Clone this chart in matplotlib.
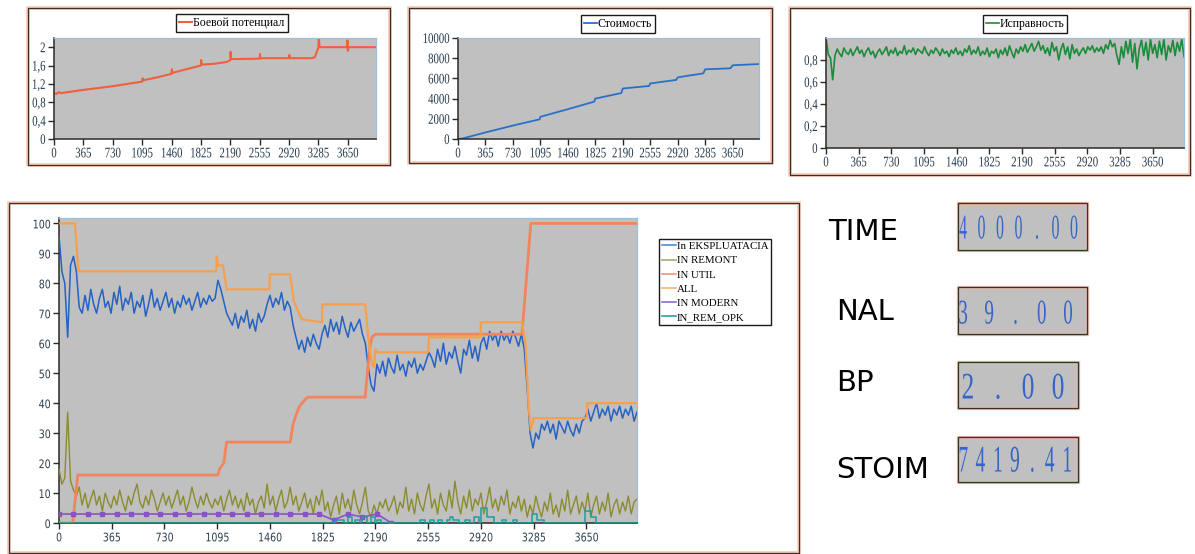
import numpy as np
import matplotlib
matplotlib.use('Agg')
import matplotlib.pyplot as plt
from matplotlib.patches import Rectangle
from matplotlib.patheffects import AbstractPathEffect
from matplotlib.transforms import Affine2D
from matplotlib.lines import Line2D

# ---------------- DATA ----------------
x_ticks = [0, 365, 730, 1095, 1460, 1825, 2190, 2555, 2920, 3285, 3650]
x_tick_labels = ['0', '365', '730', '1095', '1460', '1825', '2190', '2555', '2920', '3285', '3650']

# Боевой потенциал (top-left)
bp_days = [0, 30, 60, 90, 365, 730, 1095, 1100, 1110, 1300, 1460, 1465, 1470, 1600, 1825, 1828, 1835,
           2000, 2150, 2190, 2193, 2200, 2555, 2558, 2565, 2920, 2923, 2930, 3200, 3240, 3285, 3288,
           3300, 3640, 3645, 3650, 3660, 4000]
bp_vals = [1.0, 0.98, 1.02, 1.0, 1.07, 1.15, 1.25, 1.32, 1.28, 1.35, 1.42, 1.52, 1.44, 1.5, 1.6, 1.72, 1.62,
           1.64, 1.68, 1.72, 1.9, 1.74, 1.75, 1.85, 1.76, 1.76, 1.83, 1.76, 1.76, 1.78, 2.0, 2.2,
           2.0, 2.0, 2.15, 1.92, 2.0, 2.0]
bp_yticks = [0, 0.4, 0.8, 1.2, 1.6, 2.0]
bp_ylabels = ['0', '0,4', '0,8', '1,2', '1,6', '2']

# Стоимость (top-middle)
cost_days = [0, 60, 365, 730, 1085, 1095, 1460, 1810, 1825, 2170, 2190, 2540, 2555, 2900, 2920,
             3260, 3285, 3620, 3650, 4000]
cost_vals = [0, 50, 650, 1330, 1950, 2200, 2950, 3700, 4000, 4550, 5000, 5250, 5500, 5850, 6100,
             6500, 6900, 7000, 7300, 7420]
cost_yticks = [0, 2000, 4000, 6000, 8000, 10000]
cost_ylabels = ['0', '2000', '4000', '6000', '8000', '10000']

# Исправность (top-right), every 25 days
isp_vals = [
    1.0, 0.85, 0.82, 0.62, 0.84, 0.90, 0.86, 0.83, 0.91, 0.87,
    0.85, 0.90, 0.84, 0.88, 0.92, 0.86, 0.89, 0.83, 0.88, 0.91,
    0.85, 0.88, 0.82, 0.87, 0.90, 0.85, 0.88, 0.92, 0.84, 0.89,
    0.86, 0.91, 0.84, 0.88, 0.86, 0.93, 0.85, 0.89, 0.87, 0.91,
    0.85, 0.90, 0.88, 0.86, 0.92, 0.87, 0.84, 0.89, 0.86, 0.91,
    0.88, 0.84, 0.90, 0.86, 0.88, 0.83, 0.89, 0.86, 0.91, 0.85,
    0.88, 0.84, 0.90, 0.87, 0.93, 0.85, 0.89, 0.86, 0.92, 0.84,
    0.88, 0.85, 0.91, 0.83, 0.88, 0.86, 0.90, 0.82, 0.89, 0.85,
    0.91, 0.84, 0.93, 0.87, 0.82, 0.90, 0.86, 0.92, 0.88, 0.94,
    0.87, 0.91, 0.95, 0.88, 0.92, 0.97, 0.89, 0.93, 0.86, 0.91,
    0.84, 0.96, 0.88, 0.92, 0.80, 0.90, 0.95, 0.85, 0.92, 0.81,
    0.94, 0.86, 0.90, 0.84, 0.88, 0.91, 0.86, 0.92, 0.89, 0.93,
    0.87, 0.91, 0.88, 0.92, 0.86, 0.94, 0.90, 0.98, 0.92, 0.95,
    0.84, 0.76, 0.92, 0.82, 0.97, 0.86, 0.99, 0.78, 0.95, 0.72,
    0.90, 0.98, 0.84, 0.96, 0.80, 0.99, 0.86, 0.94, 0.82, 0.97,
    0.85, 0.99, 0.80, 0.93, 0.87, 0.98, 0.84, 0.96, 0.88, 0.99,
    0.83]
isp_days = np.arange(0, 4001, 25)
isp_yticks = [0, 0.2, 0.4, 0.6, 0.8]
isp_ylabels = ['0', '0,2', '0,4', '0,6', '0,8']

# Main chart, every 20 days
main_days = np.arange(0, 4001, 20)
ekspl_vals = [
    96, 84, 80, 62, 86, 89, 84, 72, 70, 76,
    71, 78, 73, 70, 75, 78, 72, 74, 70, 77,
    73, 79, 71, 75, 73, 77, 70, 74, 72, 76,
    69, 73, 78, 72, 75, 71, 74, 77, 72, 75,
    70, 74, 72, 76, 73, 75, 71, 74, 77, 72,
    75, 73, 76, 74, 75, 81, 78, 74, 70, 68,
    66, 70, 65, 69, 67, 71, 65, 68, 64, 70,
    67, 69, 73, 76, 72, 75, 73, 77, 71, 74,
    72, 66, 62, 58, 61, 57, 62, 59, 63, 60,
    58, 63, 66, 62, 68, 64, 67, 63, 69, 65,
    62, 67, 64, 66, 68, 63, 60, 52, 46, 44,
    53, 50, 54, 49, 55, 52, 50, 56, 51, 53,
    49, 54, 52, 55, 50, 53, 51, 54, 57, 55,
    52, 58, 54, 60, 53, 57, 55, 59, 54, 50,
    58, 56, 61, 55, 59, 54, 60, 62, 58, 64,
    61, 63, 59, 64, 61, 63, 60, 64, 62, 59,
    63, 58, 45, 30, 25, 30, 28, 33, 31, 34,
    30, 33, 28, 34, 32, 30, 34, 31, 29, 33,
    30, 34, 35, 38, 34, 37, 40, 35, 38, 36,
    39, 34, 38, 36, 39, 35, 38, 36, 39, 34,
    37]
remont_vals = [
    18, 13, 15, 37, 14, 11, 9, 12, 6, 10,
    5, 8, 11, 6, 9, 4, 10, 7, 5, 9,
    6, 11, 7, 4, 9, 6, 10, 13, 7, 5,
    9, 6, 11, 8, 4, 7, 10, 6, 9, 5,
    8, 11, 6, 9, 4, 7, 12, 8, 5, 9,
    6, 10, 7, 5, 8, 6, 9, 4, 8, 11,
    6, 9, 5, 8, 4, 10, 6, 8, 3, 7,
    9, 5, 13, 6, 9, 4, 8, 11, 5, 7,
    12, 6, 9, 4, 7, 10, 5, 8, 3, 9,
    6, 11, 4, 7, 2, 6, 9, 3, 10, 5,
    8, 4, 11, 6, 3, 7, 12, 4, 2, 6,
    3, 7, 5, 8, 4, 6, 9, 3, 7, 5,
    12, 4, 8, 3, 10, 6, 4, 9, 13, 5,
    8, 3, 10, 6, 4, 11, 5, 14, 7, 3,
    9, 5, 11, 4, 8, 6, 10, 3, 7, 12,
    5, 8, 4, 9, 6, 11, 3, 7, 5, 9,
    4, 8, 2, 6, 3, 9, 5, 2, 7, 4,
    10, 3, 6, 2, 8, 4, 11, 3, 6, 9,
    3, 7, 4, 10, 2, 6, 9, 3, 7, 4,
    10, 2, 6, 8, 3, 7, 4, 9, 3, 7,
    8]
util_days = [0, 95, 130, 1100, 1110, 1125, 1140, 1160, 1600, 1620, 1640, 1665, 1700, 1720, 2119,
             2130, 2150, 2165, 2190, 3204, 3265, 4000]
util_vals = [0, 0, 16, 16, 18, 19, 20, 27, 27, 33, 36, 39, 41, 42, 42,
             48, 58, 62, 63, 63, 100, 100]
all_days = [0, 110, 135, 1088, 1092, 1100, 1134, 1160, 1455, 1460, 1600, 1625, 1680, 1820, 1822,
            2119, 2140, 2165, 2180, 2190, 2200, 2555, 2560, 2916, 2920, 3204, 3228, 3250, 3265,
            3285, 3652, 3656, 4000]
all_vals = [100, 100, 84, 84, 89, 86, 86, 78, 78, 83, 83, 74, 68, 67, 73,
            73, 62, 53, 52, 58, 57, 57, 62, 62, 67, 67, 60, 39, 31,
            35, 35, 40, 40]
modern_days = np.arange(0, 2301, 100)
modern_vals = [3, 3, 3, 3, 3, 3, 3, 3, 3, 3, 3, 3, 3, 3, 3, 3, 3, 3, 3, 1, 3, 2, 3, 0]
opk_days = [0, 1910, 1970, 2000, 2025, 2050, 2080, 2100, 2130, 2160,
            2190, 2200, 2230, 2500, 2535, 2570, 2595, 2620, 2650, 2685,
            2705, 2730, 2765, 2810, 2845, 2870, 2905, 2920, 2960, 3010,
            3065, 3090, 3145, 3170, 3270, 3310, 3355, 3640, 3680, 3715, 4000]
opk_vals = [0, 1, 0, 2, 0, 1, 0, 2, 0, 2,
            0, 1, 0, 1, 0, 1, 0, 1, 0, 1,
            2, 1, 0, 1, 0, 2, 0, 5, 2, 0,
            1, 0, 1, 0, 3, 1, 0, 4, 2, 0, 0]
main_yticks = list(range(0, 101, 10))
main_ylabels = [str(v) for v in main_yticks]
series_names = ['In EKSPLUATACIA', 'IN REMONT', 'IN UTIL', 'ALL', 'IN MODERN', 'IN_REM_OPK']

display_names = ['TIME', 'NAL', 'BP', 'STOIM']
display_values = [4000.00, 39.00, 2.00, 7419.41]

# ---------------- HELPERS ----------------
class Squeeze(AbstractPathEffect):
    """Horizontally condense glyphs of a text (keeps it as a real Text artist)."""
    def __init__(self, sx, anchor='center'):
        super().__init__()
        self.sx = sx
        self.anchor = anchor

    def draw_path(self, renderer, gc, tpath, affine, rgbFace=None):
        try:
            ext = tpath.get_extents()
            if self.anchor == 'left':
                cx = ext.x0
            elif self.anchor == 'right':
                cx = ext.x1
            else:
                cx = 0.5 * (ext.x0 + ext.x1)
        except Exception:
            cx = 0.0
        t = Affine2D().translate(-cx, 0).scale(self.sx, 1.0).translate(cx, 0)
        renderer.draw_path(gc, tpath, t + affine, rgbFace)


W, H = 1195, 554
fig = plt.figure(figsize=(W / 100, H / 100), dpi=100)
fig.patch.set_facecolor('white')


def fx(x):
    return x / W


def fy(y):
    return 1 - y / H


def axes_px(x0, y0, x1, y1):
    return fig.add_axes([fx(x0), fy(y1), (x1 - x0) / W, (y1 - y0) / H])


def frame_px(x0, y0, x1, y1, outer='#f6c9b4', inner='#3b2e2a'):
    fig.patches.append(Rectangle((fx(x0), fy(y1)), (x1 - x0) / W, (y1 - y0) / H,
                                 transform=fig.transFigure, fill=False, ec=outer, lw=2.6, zorder=0))
    fig.patches.append(Rectangle((fx(x0), fy(y1)), (x1 - x0) / W, (y1 - y0) / H,
                                 transform=fig.transFigure, fill=False, ec=inner, lw=0.9, zorder=1))


def style_axes(ax, ylim, yticks, ylabels, family, fsize, sq, labelcolor):
    ax.set_facecolor('#c0c0c0')
    ax.set_xlim(0, 4000)
    ax.set_ylim(*ylim)
    ax.set_xticks(x_ticks)
    ax.set_xticklabels(x_tick_labels)
    ax.set_yticks(yticks)
    ax.set_yticklabels(ylabels)
    for s in ['left', 'bottom']:
        ax.spines[s].set_color('#2a2a2a')
        ax.spines[s].set_linewidth(1.1)
    for s in ['top', 'right']:
        ax.spines[s].set_color('#9fbfd6')
        ax.spines[s].set_linewidth(0.9)
    ax.tick_params(direction='out', length=4, width=1, colors='#2a2a2a',
                   labelsize=fsize, labelcolor=labelcolor, pad=2)
    for lab in ax.get_xticklabels():
        lab.set_fontfamily(family)
        lab.set_path_effects([Squeeze(sq, 'center')])
    for lab in ax.get_yticklabels():
        lab.set_fontfamily(family)
        lab.set_path_effects([Squeeze(sq, 'right')])


def top_legend(ax, cx, ty):
    leg = ax.legend(loc='upper center', bbox_to_anchor=(fx(cx), fy(ty)), bbox_transform=fig.transFigure,
                    prop={'family': 'Liberation Serif', 'size': 8.5}, frameon=True, fancybox=False,
                    edgecolor='#1a1a1a', framealpha=1, borderpad=0.25, handlelength=1.1,
                    handletextpad=0.1, borderaxespad=0)
    leg.get_frame().set_linewidth(1.0)
    return leg


# ---------------- FRAMES ----------------
frame_px(28, 8, 390, 165)
frame_px(409, 8, 772, 163)
frame_px(790, 8, 1190, 175)
frame_px(9, 203, 799, 553)

# ---------------- TOP-LEFT ----------------
ax1 = axes_px(54, 38, 376, 139)
ax1.plot(bp_days, bp_vals, color='#f0603a', lw=1.5, label='Боевой потенциал')
style_axes(ax1, (0, 2.2), bp_yticks, bp_ylabels, 'Liberation Serif', 10.5, 0.74, '#24394c')
top_legend(ax1, 232, 14)

# ---------------- TOP-MIDDLE ----------------
ax2 = axes_px(458, 38, 759, 139)
ax2.plot(cost_days, cost_vals, color='#2a70c8', lw=1.3, label='Стоимость')
style_axes(ax2, (0, 10000), cost_yticks, cost_ylabels, 'Liberation Serif', 10.5, 0.74, '#24394c')
top_legend(ax2, 618, 15)

# ---------------- TOP-RIGHT ----------------
ax3 = axes_px(826, 38, 1184, 148)
ax3.plot(isp_days, isp_vals, color='#1c8c3c', lw=1.2, label='Исправность')
style_axes(ax3, (0, 1.0), isp_yticks, isp_ylabels, 'Liberation Serif', 10.5, 0.74, '#24394c')
top_legend(ax3, 1025, 15)

# ---------------- MAIN ----------------
ax = axes_px(59, 218, 637, 523)
c_ekspl, c_rem, c_util, c_all, c_mod, c_opk = '#2462c4', '#8a8c2e', '#f2845e', '#f7a04c', '#8a52c8', '#1e9e9e'
ax.plot(main_days, ekspl_vals, color=c_ekspl, lw=1.1, zorder=3)
ax.plot(main_days, remont_vals, color=c_rem, lw=1.0, zorder=3)
ax.plot(util_days, util_vals, color=c_util, lw=2.0, zorder=4)
ax.plot(all_days, all_vals, color=c_all, lw=1.6, zorder=4)
ax.plot(modern_days, modern_vals, color=c_mod, lw=1.2, marker='s', ms=2.2, zorder=5)
ax.step(opk_days, opk_vals, where='post', color=c_opk, lw=1.1, zorder=5)
style_axes(ax, (0, 101.8), main_yticks, main_ylabels, 'DejaVu Sans', 8.5, 0.8, '#2e4050')

leg_colors = ['#4a8ee0', '#9fae6e', '#f0957a', '#f8b478', '#8a6ad8', '#2aa2a2']
handles = [Line2D([0], [0], color=c, lw=1.2) for c in leg_colors]
mleg = ax.legend(handles, series_names, loc='upper left', bbox_to_anchor=(fx(659), fy(239)),
                 bbox_transform=fig.transFigure, prop={'family': 'Liberation Serif', 'size': 7.8},
                 frameon=True, fancybox=False, edgecolor='#1a1a1a', framealpha=1, borderpad=0.25,
                 labelspacing=0.42, handlelength=1.3, handletextpad=0.1, borderaxespad=0)
mleg.get_frame().set_linewidth(1.0)

# ---------------- DISPLAYS ----------------
label_pos = [(828, 232), (836, 312), (836, 383), (836, 470)]
box_pos = [(958, 203, 1087, 250), (958, 287, 1087, 334), (958, 362, 1078, 408), (958, 437, 1078, 482)]
char_span = [(963, 1074), (963, 1068), (968, 1058), (963, 1067)]
digit_size = [25, 25, 27, 27]
digit_sq = [0.46, 0.55, 0.68, 0.52]
digit_base = [238.5, 323.5, 398.5, 471.5]

for i, name in enumerate(display_names):
    lx, ly = label_pos[i]
    fig.text(fx(lx), fy(ly), name, fontsize=21, family='DejaVu Sans', color='black',
             ha='left', va='center')
    x0, y0, x1, y1 = box_pos[i]
    fig.patches.append(Rectangle((fx(x0), fy(y1)), (x1 - x0) / W, (y1 - y0) / H,
                                 transform=fig.transFigure, fc='#c0c0c0', ec='#f3c3b0', lw=2.4, zorder=0))
    fig.patches.append(Rectangle((fx(x0), fy(y1)), (x1 - x0) / W, (y1 - y0) / H,
                                 transform=fig.transFigure, fill=False, ec='#333333', lw=1.0, zorder=1))
    s = f'{display_values[i]:.2f}'
    a, b = char_span[i]
    n = len(s)
    for k, ch in enumerate(s):
        cx = a + (b - a) * k / (n - 1)
        fig.text(fx(cx), fy(digit_base[i]), ch, fontsize=digit_size[i], family='Liberation Serif',
                 color='#3566c6', ha='center', va='baseline',
                 path_effects=[Squeeze(digit_sq[i], 'center')])

fig.savefig('out.png', dpi=100, facecolor='white')
